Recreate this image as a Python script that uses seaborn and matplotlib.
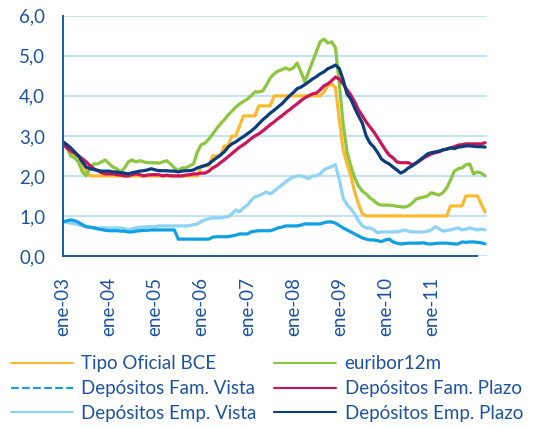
import numpy as np
import pandas as pd
import seaborn as sns
import matplotlib.pyplot as plt
from matplotlib.lines import Line2D

# --- DATA (monthly, ene-03 .. mar-12) ---
tipo_bce = [
    2.75, 2.75, 2.6, 2.5, 2.5, 2.3, 2.1, 2.0, 2.0, 2.0, 2.0, 2.0,
    2.0, 2.0, 2.0, 2.0, 2.0, 2.0, 2.0, 2.0, 2.0, 2.0, 2.0, 2.0,
    2.0, 2.0, 2.0, 2.0, 2.0, 2.0, 2.0, 2.0, 2.0, 2.0, 2.0, 2.0,
    2.25, 2.25, 2.25, 2.5, 2.5, 2.5, 2.75, 2.75, 3.0, 3.0, 3.25, 3.5,
    3.5, 3.5, 3.5, 3.75, 3.75, 3.75, 3.75, 4.0, 4.0, 4.0, 4.0, 4.0,
    4.0, 4.0, 4.0, 4.0, 4.0, 4.0, 4.0, 4.0, 4.1, 4.25, 4.3, 4.2,
    3.4, 2.65, 2.3, 2.0, 1.6, 1.3, 1.05, 1.0, 1.0, 1.0, 1.0, 1.0,
    1.0, 1.0, 1.0, 1.0, 1.0, 1.0, 1.0, 1.0, 1.0, 1.0, 1.0, 1.0,
    1.0, 1.0, 1.0, 1.0, 1.0, 1.25, 1.25, 1.25, 1.25, 1.5, 1.5, 1.5,
    1.5, 1.3, 1.1,
]
euribor12m = [
    2.85, 2.7, 2.5, 2.45, 2.35, 2.1, 2.0, 2.2, 2.3, 2.3, 2.35, 2.4,
    2.3, 2.22, 2.18, 2.1, 2.2, 2.35, 2.4, 2.35, 2.38, 2.35, 2.33, 2.33,
    2.33, 2.32, 2.35, 2.38, 2.3, 2.2, 2.13, 2.2, 2.2, 2.25, 2.3, 2.6,
    2.78, 2.82, 2.92, 3.05, 3.18, 3.3, 3.4, 3.52, 3.62, 3.72, 3.8, 3.86,
    3.92, 4.0, 4.1, 4.1, 4.12, 4.27, 4.45, 4.55, 4.62, 4.65, 4.7, 4.65,
    4.7, 4.82, 4.6, 4.35, 4.6, 4.85, 5.1, 5.35, 5.42, 5.32, 5.35, 5.2,
    4.3, 3.3, 2.6, 2.25, 1.95, 1.75, 1.62, 1.55, 1.45, 1.38, 1.3, 1.27,
    1.27, 1.27, 1.26, 1.24, 1.23, 1.22, 1.25, 1.32, 1.42, 1.45, 1.47, 1.5,
    1.58, 1.55, 1.52, 1.58, 1.7, 1.9, 2.12, 2.18, 2.2, 2.28, 2.3, 2.05,
    2.1, 2.07, 2.0,
]
fam_vista = [
    0.85, 0.88, 0.9, 0.88, 0.84, 0.78, 0.73, 0.72, 0.7, 0.68, 0.66, 0.64,
    0.63, 0.63, 0.63, 0.62, 0.62, 0.6, 0.6, 0.62, 0.63, 0.64, 0.64, 0.65,
    0.65, 0.65, 0.65, 0.65, 0.65, 0.65, 0.42, 0.42, 0.42, 0.42, 0.42, 0.42,
    0.42, 0.42, 0.42, 0.47, 0.48, 0.48, 0.48, 0.48, 0.5, 0.52, 0.55, 0.55,
    0.55, 0.6, 0.62, 0.63, 0.63, 0.63, 0.63, 0.66, 0.7, 0.72, 0.75, 0.75,
    0.75, 0.75, 0.77, 0.8, 0.8, 0.8, 0.8, 0.8, 0.83, 0.85, 0.85, 0.82,
    0.76, 0.7, 0.65, 0.6, 0.55, 0.5, 0.45, 0.42, 0.4, 0.4, 0.38, 0.36,
    0.4, 0.42, 0.35, 0.32, 0.3, 0.31, 0.32, 0.32, 0.32, 0.32, 0.33, 0.3,
    0.3, 0.31, 0.32, 0.32, 0.32, 0.31, 0.3, 0.3, 0.35, 0.34, 0.35, 0.35,
    0.34, 0.33, 0.3,
]
fam_plazo = [
    2.78, 2.7, 2.62, 2.57, 2.5, 2.43, 2.35, 2.26, 2.18, 2.13, 2.08, 2.05,
    2.05, 2.05, 2.03, 2.02, 2.0, 2.0, 2.03, 2.05, 2.03, 2.0, 2.02, 2.03,
    2.03, 2.03, 2.0, 2.02, 2.0, 2.0, 2.0, 2.0, 2.02, 2.03, 2.05, 2.05,
    2.07, 2.07, 2.12, 2.2, 2.25, 2.33, 2.4, 2.48, 2.56, 2.64, 2.72, 2.78,
    2.85, 2.93, 3.0, 3.05, 3.12, 3.2, 3.28, 3.35, 3.43, 3.5, 3.58, 3.65,
    3.73, 3.8, 3.88, 3.95, 4.0, 4.05, 4.07, 4.15, 4.25, 4.3, 4.38, 4.47,
    4.42, 4.3, 4.15, 4.02, 3.85, 3.65, 3.5, 3.35, 3.22, 3.1, 2.95, 2.8,
    2.65, 2.52, 2.45, 2.35, 2.33, 2.33, 2.33, 2.28, 2.32, 2.38, 2.45, 2.5,
    2.55, 2.58, 2.6, 2.65, 2.67, 2.7, 2.73, 2.77, 2.78, 2.8, 2.8, 2.8,
    2.8, 2.8, 2.83,
]
emp_vista = [
    0.86, 0.84, 0.82, 0.8, 0.78, 0.76, 0.73, 0.72, 0.7, 0.7, 0.7, 0.7,
    0.7, 0.7, 0.7, 0.7, 0.68, 0.65, 0.68, 0.7, 0.72, 0.72, 0.73, 0.73,
    0.73, 0.75, 0.75, 0.75, 0.75, 0.75, 0.75, 0.75, 0.75, 0.76, 0.78, 0.8,
    0.86, 0.9, 0.93, 0.95, 0.95, 0.95, 0.97, 0.98, 1.05, 1.15, 1.1, 1.2,
    1.27, 1.38, 1.48, 1.5, 1.55, 1.6, 1.55, 1.62, 1.7, 1.77, 1.85, 1.92,
    1.97, 2.0, 2.0, 1.97, 1.93, 2.0, 2.0, 2.05, 2.15, 2.2, 2.23, 2.28,
    1.9, 1.45, 1.28, 1.18, 1.05, 0.88, 0.75, 0.7, 0.7, 0.65, 0.58, 0.6,
    0.6, 0.6, 0.6, 0.6, 0.62, 0.65, 0.62, 0.6, 0.6, 0.6, 0.6, 0.62,
    0.65, 0.73, 0.68, 0.62, 0.64, 0.65, 0.68, 0.7, 0.65, 0.67, 0.7, 0.67,
    0.65, 0.67, 0.65,
]
emp_plazo = [
    2.85, 2.78, 2.7, 2.6, 2.5, 2.35, 2.22, 2.18, 2.16, 2.14, 2.12, 2.12,
    2.12, 2.1, 2.1, 2.08, 2.07, 2.05, 2.08, 2.1, 2.12, 2.13, 2.15, 2.18,
    2.15, 2.13, 2.13, 2.13, 2.12, 2.12, 2.1, 2.12, 2.13, 2.13, 2.15, 2.2,
    2.23, 2.26, 2.3, 2.38, 2.45, 2.52, 2.6, 2.72, 2.8, 2.85, 2.92, 2.98,
    3.05, 3.12, 3.2, 3.3, 3.4, 3.48, 3.57, 3.64, 3.72, 3.8, 3.9, 4.0,
    4.08, 4.18, 4.22, 4.28, 4.35, 4.42, 4.48, 4.55, 4.6, 4.68, 4.72, 4.77,
    4.68, 4.4, 4.05, 3.92, 3.7, 3.5, 3.32, 3.0, 2.82, 2.72, 2.58, 2.42,
    2.35, 2.3, 2.22, 2.15, 2.07, 2.12, 2.2, 2.25, 2.32, 2.4, 2.47, 2.55,
    2.58, 2.6, 2.62, 2.65, 2.67, 2.7, 2.68, 2.72, 2.73, 2.75, 2.75, 2.74,
    2.73, 2.73, 2.72,
]

series_names = ["Tipo Oficial BCE", "euribor12m", "Depósitos Fam. Vista",
                "Depósitos Fam. Plazo", "Depósitos Emp. Vista", "Depósitos Emp. Plazo"]
x_labels = ["ene-03", "ene-04", "ene-05", "ene-06", "ene-07",
            "ene-08", "ene-09", "ene-10", "ene-11", ""]
y_labels = ["0,0", "1,0", "2,0", "3,0", "4,0", "5,0", "6,0"]

# --- STYLE ---
colors = {
    "Tipo Oficial BCE": "#fdb92e",
    "euribor12m": "#8cc63e",
    "Depósitos Fam. Vista": "#0ea0e2",
    "Depósitos Fam. Plazo": "#cc1559",
    "Depósitos Emp. Vista": "#8dd3f6",
    "Depósitos Emp. Plazo": "#0b3d7e",
}
TXT = "#1c52a4"
AXC = "#1a56a8"
GRID = "#b9e3f5"

sns.set_style("white")
plt.rcParams['font.family'] = ['Lato', 'DejaVu Sans']

values = [tipo_bce, euribor12m, fam_vista, fam_plazo, emp_vista, emp_plazo]
frames = []
for name, vals in zip(series_names, values):
    frames.append(pd.DataFrame({"mes": np.arange(len(vals)), "valor": vals, "serie": name}))
df = pd.concat(frames, ignore_index=True)

fig = plt.figure(figsize=(5.35, 4.28), dpi=100)
ax = fig.add_axes([0.118, 0.402, 0.793, 0.561])

# draw order: light lines first, darker on top
order = ["Depósitos Emp. Vista", "Depósitos Fam. Vista", "Tipo Oficial BCE",
         "euribor12m", "Depósitos Fam. Plazo", "Depósitos Emp. Plazo"]
for name in order:
    sns.lineplot(data=df[df["serie"] == name], x="mes", y="valor",
                 color=colors[name], linewidth=2.3, ax=ax, legend=False)

n_months = len(tipo_bce)
ax.set_xlim(0, n_months - 0.4)
ax.set_ylim(0, 6)
ax.set_yticks(range(len(y_labels)))
ax.set_yticklabels(y_labels)
ax.set_xticks([12 * i for i in range(len(x_labels))])
ax.set_xticklabels(x_labels, rotation=90)
ax.set_xlabel("")
ax.set_ylabel("")

ax.yaxis.grid(True, color=GRID, linewidth=1.3)
ax.xaxis.grid(False)
ax.set_axisbelow(True)

for s in ["top", "right"]:
    ax.spines[s].set_visible(False)
for s in ["left", "bottom"]:
    ax.spines[s].set_color(AXC)
    ax.spines[s].set_linewidth(1.4)
ax.spines["bottom"].set_bounds(0, 12 * (len(x_labels) - 1))
ax.spines["bottom"].set_zorder(5)

ax.tick_params(axis="y", colors=AXC, labelcolor=TXT, labelsize=13.5,
               length=4, width=1.4, direction="out", pad=9)
ax.tick_params(axis="x", colors=AXC, labelcolor=TXT, labelsize=13.5,
               length=4, width=1.4, direction="out", pad=11)

# legend: column-major, so list column 1 then column 2
leg_order = ["Tipo Oficial BCE", "Depósitos Fam. Vista", "Depósitos Emp. Vista",
             "euribor12m", "Depósitos Fam. Plazo", "Depósitos Emp. Plazo"]
handles = []
for name in leg_order:
    ls = "--" if name == "Depósitos Fam. Vista" else "-"
    handles.append(Line2D([0], [0], color=colors[name], linewidth=1.5, linestyle=ls))
leg = fig.legend(handles, leg_order, loc="upper left", ncol=2,
                 bbox_to_anchor=(0.02, 0.17), frameon=False, fontsize=13.5,
                 handlelength=3.3, handletextpad=0.45, columnspacing=0.95,
                 labelspacing=0.42, borderpad=0, borderaxespad=0)
for t in leg.get_texts():
    t.set_color(TXT)

plt.savefig("out.png", dpi=100)
